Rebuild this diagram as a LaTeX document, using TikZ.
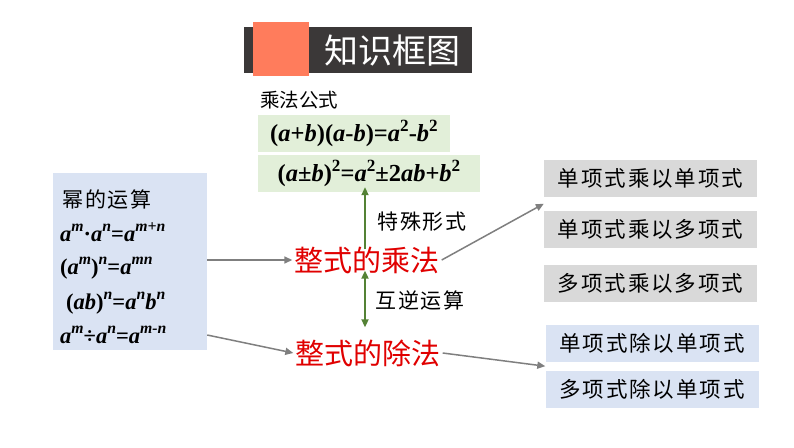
\documentclass[tikz,border=0pt]{standalone}
\usepackage{fontspec}
\setmainfont{Liberation Serif}
\newfontfamily\cjk{Noto Sans CJK SC}
\newfontfamily\cjkw{Noto Sans CJK SC}[LetterSpace=9]
\usetikzlibrary{arrows.meta,positioning,calc}
\definecolor{kfDark}{HTML}{3B3838}
\definecolor{kfOrange}{HTML}{FF7C5C}
\definecolor{kfGreen}{HTML}{E2EFD9}
\definecolor{kfBlue}{HTML}{DAE3F3}
\definecolor{kfGray}{HTML}{D9D9D9}
\definecolor{kfArrow}{HTML}{7F7F7F}
\definecolor{kfLeaf}{HTML}{548235}
\definecolor{kfRed}{HTML}{E00000}
\newcommand{\vr}[1]{\textit{#1}}
\newcommand{\up}[1]{\raisebox{0.42em}{\scalebox{0.7}{#1}}}
\newcommand{\sq}[1]{\up{\textit{#1}}}

\begin{document}
\begin{tikzpicture}[x=1pt,y=-1pt,
  formula/.style={fill=kfGreen,minimum height=37pt,inner sep=0pt,
                  font=\fontsize{24.5}{26}\selectfont\bfseries},
  rule/.style={anchor=west,inner sep=0pt,font=\fontsize{22.5}{25}\selectfont\bfseries},
  kind/.style={minimum width=213pt,minimum height=37pt,inner sep=0pt,
               font=\cjkw\fontsize{21.5}{24}\selectfont},
  topic/.style={text=kfRed,inner sep=2pt,font=\cjk\fontsize{29}{31}\selectfont},
  note/.style={inner sep=0pt,font=\cjkw\fontsize{21}{24}\selectfont},
  link/.style={draw=kfArrow,line width=1.5pt,-{Triangle[length=8pt,width=7pt]}},
  leaf/.style={draw=kfLeaf,line width=1.8pt}]
  \useasboundingbox (0,0) rectangle (794,447);

  % title bar
  \node[fill=kfDark,minimum width=228pt,minimum height=46pt,inner sep=0pt] (bar) at (358,50) {};
  \node[fill=kfOrange,minimum width=56pt,minimum height=54pt,inner sep=0pt] (tab) at (281,49) {};
  \node[text=white,inner sep=0pt,font=\cjk\fontsize{34}{36}\selectfont] (title) at (392,51) {知识框图};

  % multiplication formulas
  \node[anchor=west,inner sep=0pt,font=\cjk\fontsize{19.5}{22}\selectfont] (fhead) at (260,100) {乘法公式};
  \node[formula,minimum width=192pt] (f1) at (354,133.5)
    {(\vr{a}+\vr{b})(\vr{a}-\vr{b})=\vr{a}\up{2}-\vr{b}\up{2}};
  \node[formula,minimum width=222pt] (f2) at (369,173.5)
    {(\vr{a}±\vr{b})\up{2}=\vr{a}\up{2}±2\vr{ab}+\vr{b}\up{2}};

  % power rules
  \node[fill=kfBlue,minimum width=154pt,minimum height=177pt,inner sep=0pt] (pow) at (130,261.5) {};
  \node[anchor=west,inner sep=0pt,font=\cjkw\fontsize{21}{24}\selectfont] (phead) at (62,200) {幂的运算};
  \node[rule] (p1) at (60,232) {\vr{a}\sq{m}·\vr{a}\sq{n}=\vr{a}\sq{m+n}};
  \node[rule] (p2) at (60,268) {(\vr{a}\sq{m})\sq{n}=\vr{a}\sq{mn}};
  \node[rule] (p3) at (66,303) {(\vr{ab})\sq{n}=\vr{a}\sq{n}\vr{b}\sq{n}};
  \node[rule] (p4) at (60,335) {\vr{a}\sq{m}÷\vr{a}\sq{n}=\vr{a}\sq{m-n}};

  % the two operations
  \node[topic] (mul) at (367,260) {整式的乘法};
  \node[topic] (div) at (368,353) {整式的除法};
  \node[note] (special) at (422,222) {特殊形式};
  \node[note] (inverse) at (420,300) {互逆运算};

  % kinds of products and quotients
  \node[kind,fill=kfGray] (r1) at (650.5,178) {单项式乘以单项式};
  \node[kind,fill=kfGray,below=14pt of r1] (r2) {单项式乘以多项式};
  \node[kind,fill=kfGray,below=17pt of r2] (r3) {多项式乘以多项式};
  \node[kind,fill=kfBlue] (d1) at (652,343) {单项式除以单项式};
  \node[kind,fill=kfBlue,below=9pt of d1] (d2) {多项式除以单项式};

  \draw[link] (pow.east |- mul.west) -- (mul.west);
  \draw[link] (pow.east |- p4.center) -- (div.west);
  \draw[link] (mul.east) -- ($(r1.south west)!0.5!(r2.north west)$);
  \draw[link] (div.east) -- ($(d1.south west)!0.5!(d2.north west)$);
  \draw[leaf,-{Triangle[length=8pt,width=7pt]}] ([xshift=-2pt,yshift=-5pt]mul.north)
    -- ([xshift=-2pt,yshift=5pt]mul.north |- f2.south);
  \draw[leaf,{Triangle[length=8pt,width=7pt]}-{Triangle[length=8pt,width=7pt]}]
    ([xshift=-2pt,yshift=5pt]mul.south) -- ([xshift=-3pt,yshift=10pt]div.north);
\end{tikzpicture}
\end{document}
